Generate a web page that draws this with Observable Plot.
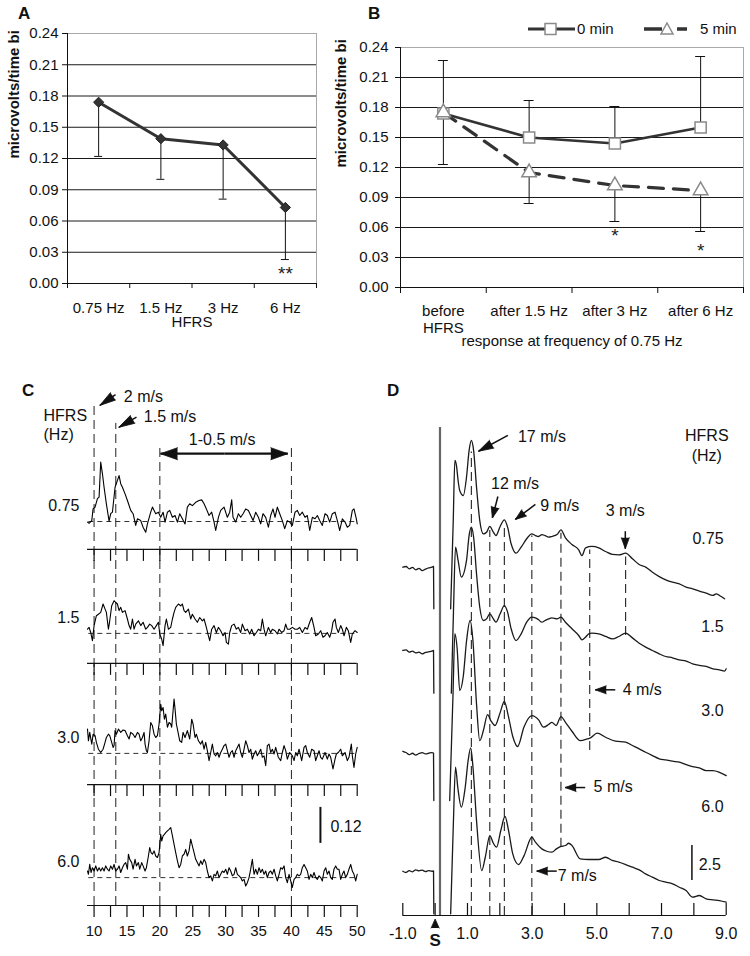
<!DOCTYPE html>
<html>
<head>
<meta charset="utf-8">
<script src="https://cdn.jsdelivr.net/npm/d3@7"></script>
<script src="https://cdn.jsdelivr.net/npm/@observablehq/plot@0.6"></script>
<style>
  body { margin: 0; background: #fff; }
  #fig { position: relative; width: 750px; height: 956px; overflow: hidden; background: #fff;
         font-family: "Liberation Sans", Arial, sans-serif; color: #111; }
  .panel { position: absolute; }
  .letter { position: absolute; font-weight: bold; font-size: 17px; line-height: 20px; }
  .legtxt { position: absolute; font-size: 15px; line-height: 18px; white-space: nowrap; }
</style>
</head>
<body>
<div id="fig">
  <div class="letter" style="left:18px;top:4px">A</div>
  <div class="letter" style="left:368px;top:4px">B</div>
  <div class="letter" style="left:22px;top:381px">C</div>
  <div class="letter" style="left:387px;top:381px">D</div>
</div>
<script>
// ---------------- DATA ----------------
// Panel A
const hfrsA = ["0.75 Hz", "1.5 Hz", "3 Hz", "6 Hz"];
const meanA = [0.174, 0.139, 0.133, 0.073];
const lowerA = [0.122, 0.100, 0.081, 0.023];
const sigA = ["", "", "", "**"];
const sigAy = [null, null, null, 0.0144];
const yTicksA = [0, 0.03, 0.06, 0.09, 0.12, 0.15, 0.18, 0.21, 0.24];

// Panel B
const timepointsB = ["before\nHFRS", "after 1.5 Hz", "after 3 Hz", "after 6 Hz"];
const seriesB = ["0 min", "5 min"];
const mean0 = [0.174, 0.150, 0.144, 0.160];
const upper0 = [0.227, 0.187, 0.181, 0.231];
const mean5 = [0.175, 0.115, 0.102, 0.097];
const lower5 = [0.123, 0.084, 0.066, 0.056];
const sigB = ["", "", "*", "*"];
const sigBy = [null, null, 0.057, 0.042];
const yTicksB = [0, 0.03, 0.06, 0.09, 0.12, 0.15, 0.18, 0.21, 0.24];

// Panel C : time (ms) vs response (microvolts/time bin) relative to baseline
const cRates = ["0.75", "1.5", "3.0", "6.0"];
const cTickLabels = [10, 15, 20, 25, 30, 35, 40, 45, 50];
const cMinorTicks = [10, 12.5, 15, 17.5, 20, 22.5, 25, 27.5, 30, 32.5, 35, 37.5, 40, 42.5, 45, 47.5, 50];
const cMarkerTimes = [10, 13.3, 20, 40];
const cScaleBar = 0.12;
const c075 = [[9.0,-0.002],[9.24,-0.006],[9.65,0.003],[9.85,0.042],[10.15,0.048],[10.51,0.076],[10.76,0.081],[11.01,0.198],[11.27,0.159],[11.52,0.114],[11.87,0.059],[12.28,0.001],[12.53,0.026],[12.79,0.031],[13.19,0.114],[13.55,0.137],[13.80,0.153],[14.05,0.126],[14.31,0.114],[14.71,0.092],[15.07,0.070],[15.57,0.037],[15.93,0.026],[16.33,-0.013],[16.59,0.009],[17.09,0.003],[17.45,-0.019],[17.85,-0.036],[18.11,-0.008],[18.61,0.031],[18.87,0.048],[19.37,0.026],[19.78,0.031],[20.13,0.014],[20.49,0.031],[20.79,-0.002],[21.15,0.031],[21.50,0.037],[21.91,0.014],[22.31,0.020],[22.67,-0.002],[23.02,0.026],[23.42,0.009],[23.83,-0.008],[24.18,0.048],[24.54,0.059],[24.94,0.053],[25.45,0.064],[25.96,0.070],[26.36,0.072],[26.72,0.059],[27.07,0.042],[27.48,0.020],[27.88,0.031],[28.24,-0.002],[28.49,-0.030],[28.90,0.014],[29.25,0.037],[29.76,0.048],[30.26,0.014],[30.62,0.031],[30.92,0.072],[31.12,0.014],[31.53,-0.002],[31.94,0.026],[32.29,0.014],[32.65,0.026],[33.05,0.042],[33.46,0.037],[33.81,0.020],[34.17,0.003],[34.57,0.031],[34.98,0.014],[35.33,-0.008],[35.68,0.026],[36.09,0.014],[36.50,-0.019],[36.85,0.020],[37.20,0.042],[37.51,0.014],[37.86,0.048],[38.22,0.026],[38.62,0.003],[38.98,-0.024],[39.38,0.003],[39.74,-0.002],[40.14,-0.013],[40.55,0.031],[40.90,0.037],[41.26,0.020],[41.66,0.031],[42.07,0.014],[42.42,0.020],[42.78,-0.030],[43.18,0.014],[43.59,0.009],[43.94,0.020],[44.30,0.003],[44.70,-0.013],[45.11,0.026],[45.46,0.020],[45.82,-0.002],[46.22,0.026],[46.63,0.031],[46.98,0.003],[47.34,-0.030],[47.74,0.009],[48.15,-0.002],[48.50,-0.019],[48.86,-0.013],[49.26,0.037],[49.51,0.042],[49.87,0.009],[50.0,-0.008]];
const c15 = [[9.0,0.014],[9.24,0.020],[9.49,0.003],[9.75,-0.024],[10.0,0.026],[10.35,0.059],[10.66,0.064],[11.01,0.070],[11.37,0.098],[11.67,0.081],[11.87,0.070],[12.18,0.014],[12.38,0.042],[12.68,0.092],[13.04,0.109],[13.29,0.103],[13.55,0.098],[13.80,0.076],[14.05,0.087],[14.31,0.070],[14.71,0.076],[15.07,0.048],[15.32,0.026],[15.57,0.014],[15.83,0.048],[16.08,0.014],[16.33,0.031],[16.74,0.042],[17.09,0.026],[17.45,0.037],[17.85,0.014],[18.11,0.020],[18.46,0.031],[18.76,0.026],[19.12,0.014],[19.47,0.026],[19.78,0.037],[19.98,-0.002],[20.28,-0.019],[20.49,-0.041],[20.79,0.026],[20.99,0.048],[21.30,0.014],[21.65,0.020],[21.91,0.048],[22.16,0.070],[22.41,0.087],[22.82,0.098],[23.17,0.092],[23.42,0.098],[23.68,0.076],[23.93,0.070],[24.34,0.081],[24.69,0.048],[24.94,0.064],[25.35,0.048],[25.70,0.037],[26.06,0.053],[26.46,0.042],[26.72,0.048],[27.07,0.020],[27.38,-0.008],[27.58,-0.024],[27.88,0.014],[28.24,0.026],[28.59,0.003],[28.90,0.020],[29.25,0.009],[29.61,-0.008],[29.91,0.003],[30.11,-0.030],[30.42,-0.036],[30.62,0.003],[30.92,0.026],[31.28,0.031],[31.63,0.014],[31.94,0.020],[32.29,0.003],[32.54,0.031],[32.95,0.009],[33.31,0.014],[33.66,-0.002],[33.96,0.014],[34.32,-0.008],[34.67,0.003],[34.98,0.014],[35.33,0.009],[35.58,0.048],[35.84,0.014],[36.09,-0.008],[36.50,0.020],[36.85,0.003],[37.10,0.014],[37.51,0.009],[37.86,-0.002],[38.12,0.014],[38.52,0.003],[38.88,0.009],[39.13,0.031],[39.38,0.014],[39.74,0.014],[40.14,0.020],[40.55,0.014],[40.90,0.014],[41.26,0.020],[41.66,0.003],[42.07,0.020],[42.42,0.014],[42.78,0.037],[43.08,0.053],[43.44,0.020],[43.69,-0.008],[44.10,-0.002],[44.45,0.009],[44.80,-0.013],[45.11,-0.008],[45.46,0.003],[45.82,-0.013],[46.12,0.009],[46.32,0.037],[46.63,0.048],[46.83,0.020],[47.13,0.003],[47.49,0.026],[47.74,0.014],[48.0,-0.008],[48.35,0.020],[48.65,0.009],[49.01,-0.030],[49.26,-0.002],[49.67,0.009],[50.0,0.003]];
const c30 = [[9.0,0.081],[9.14,0.042],[9.34,0.070],[9.65,0.031],[9.85,0.064],[10.15,0.059],[10.35,0.037],[10.66,0.014],[11.01,0.003],[11.37,0.014],[11.67,0.037],[11.87,0.053],[12.18,0.064],[12.38,0.059],[12.68,0.037],[12.89,0.020],[13.04,0.026],[13.19,0.076],[13.39,0.064],[13.70,0.081],[14.05,0.070],[14.41,0.078],[14.71,0.076],[15.07,0.059],[15.32,0.048],[15.57,0.070],[15.93,0.064],[16.23,0.053],[16.59,0.070],[16.84,0.064],[17.09,0.042],[17.35,0.053],[17.60,0.070],[17.75,0.031],[17.95,0.009],[18.11,0.003],[18.36,0.042],[18.61,0.103],[18.87,0.092],[19.12,0.064],[19.37,0.053],[19.63,0.059],[19.88,0.098],[20.13,0.164],[20.28,0.142],[20.49,0.153],[20.69,0.114],[20.89,0.131],[21.15,0.087],[21.40,0.103],[21.65,0.098],[21.80,0.087],[22.01,0.142],[22.16,0.181],[22.31,0.148],[22.51,0.098],[22.82,0.064],[23.02,0.042],[23.32,0.037],[23.53,0.070],[23.83,0.053],[24.18,0.076],[24.54,0.048],[24.84,0.114],[25.05,0.098],[25.35,0.053],[25.55,0.064],[25.86,0.042],[26.21,0.031],[26.46,0.042],[26.72,0.014],[26.97,0.037],[27.22,0.009],[27.48,-0.024],[27.73,0.003],[27.98,0.031],[28.24,-0.002],[28.49,-0.008],[28.74,0.003],[29.0,-0.013],[29.25,0.003],[29.50,0.014],[29.76,0.026],[30.01,0.031],[30.26,0.009],[30.52,-0.013],[30.77,0.003],[31.02,0.009],[31.28,-0.013],[31.53,0.009],[31.78,0.020],[32.04,0.031],[32.29,0.003],[32.54,-0.013],[32.80,0.014],[33.05,0.042],[33.30,0.026],[33.56,0.003],[33.81,0.014],[34.06,-0.019],[34.32,-0.002],[34.57,0.009],[34.82,-0.008],[35.08,0.003],[35.33,0.014],[35.58,-0.013],[35.84,-0.008],[36.09,-0.041],[36.34,0.026],[36.60,0.031],[36.85,0.003],[37.10,0.014],[37.36,-0.002],[37.61,0.020],[38.01,-0.013],[38.37,-0.024],[38.62,0.003],[38.88,0.026],[39.13,0.009],[39.38,-0.019],[39.74,0.003],[40.14,-0.008],[40.40,-0.024],[40.65,0.003],[40.90,-0.008],[41.16,0.014],[41.56,-0.024],[41.92,0.020],[42.17,0.026],[42.42,0.003],[42.78,-0.013],[43.08,0.014],[43.44,0.009],[43.69,-0.024],[43.94,-0.008],[44.20,0.009],[44.45,-0.013],[44.70,-0.019],[45.11,0.003],[45.46,-0.019],[45.71,-0.002],[45.97,-0.013],[46.32,-0.052],[46.63,-0.019],[46.83,-0.002],[47.13,0.003],[47.49,0.014],[47.74,-0.008],[48.15,0.003],[48.50,-0.024],[48.75,-0.013],[49.11,0.031],[49.26,-0.008],[49.51,-0.047],[49.77,-0.002],[50.0,0.020]];
const c60 = [[9.0,0.022],[9.14,0.011],[9.34,0.044],[9.54,0.017],[9.75,0.033],[10.0,0.022],[10.25,0.039],[10.51,0.022],[10.76,0.033],[11.01,0.022],[11.27,0.033],[11.52,0.022],[11.77,0.039],[12.03,0.028],[12.28,0.022],[12.53,0.039],[12.79,0.028],[13.04,0.044],[13.29,0.022],[13.55,0.028],[13.80,0.039],[14.05,0.017],[14.31,0.033],[14.56,0.044],[14.81,0.050],[15.07,0.028],[15.22,0.078],[15.42,0.061],[15.72,0.050],[15.93,0.028],[16.23,0.061],[16.43,0.039],[16.74,0.050],[16.94,0.028],[17.24,0.050],[17.45,0.039],[17.75,0.022],[17.95,0.033],[18.26,0.072],[18.46,0.100],[18.66,0.083],[18.87,0.078],[19.12,0.089],[19.37,0.072],[19.63,0.067],[19.88,0.083],[20.13,0.144],[20.28,0.122],[20.49,0.139],[20.69,0.144],[20.89,0.150],[21.15,0.156],[21.40,0.161],[21.65,0.167],[21.91,0.139],[22.16,0.111],[22.41,0.083],[22.67,0.056],[22.92,0.033],[23.17,0.044],[23.42,0.072],[23.68,0.078],[23.93,0.094],[24.18,0.072],[24.44,0.089],[24.69,0.128],[24.94,0.106],[25.20,0.083],[25.45,0.061],[25.70,0.050],[25.96,0.039],[26.21,0.056],[26.46,0.044],[26.72,0.061],[26.97,0.050],[27.22,0.022],[27.48,0.0],[27.73,0.006],[27.98,-0.011],[28.24,0.011],[28.49,0.006],[28.74,0.022],[29.0,0.0],[29.25,0.011],[29.50,0.022],[29.76,0.017],[30.01,0.028],[30.26,0.011],[30.52,0.033],[30.77,0.022],[31.02,0.006],[31.28,0.011],[31.53,0.033],[31.78,0.011],[32.04,0.006],[32.29,0.0],[32.54,-0.011],[32.80,-0.006],[33.05,-0.028],[33.30,-0.017],[33.56,0.0],[33.81,0.028],[34.06,0.061],[34.32,0.011],[34.57,0.028],[34.82,0.011],[35.08,0.033],[35.33,0.017],[35.58,0.028],[35.84,0.011],[36.09,0.022],[36.34,0.0],[36.60,0.017],[36.85,0.022],[37.10,0.011],[37.36,0.028],[37.61,0.006],[37.86,-0.011],[38.12,0.011],[38.37,0.033],[38.62,0.028],[38.88,0.039],[39.13,0.0],[39.38,-0.017],[39.64,0.011],[39.89,-0.011],[40.14,-0.033],[40.40,-0.006],[40.65,0.0],[40.90,0.011],[41.16,0.006],[41.41,0.011],[41.66,0.033],[41.92,0.044],[42.17,0.033],[42.42,0.022],[42.68,-0.006],[42.93,0.011],[43.18,0.0],[43.44,0.017],[43.69,0.0],[43.94,-0.006],[44.20,0.006],[44.45,0.0],[44.70,-0.011],[44.96,0.022],[45.21,0.033],[45.46,0.011],[45.71,0.022],[45.97,0.0],[46.22,-0.006],[46.47,0.028],[46.73,0.039],[46.98,0.028],[47.23,0.028],[47.49,-0.006],[47.74,0.011],[47.99,0.022],[48.25,0.0],[48.50,0.011],[48.75,0.028],[49.01,0.044],[49.26,0.022],[49.51,0.011],[49.77,-0.011],[50.0,0.011]];

// Panel D : time (ms) vs potential relative to pre-stimulus level (null = stimulus artifact gap)
const dRates = ["0.75", "1.5", "3.0", "6.0"];
const dTicks = [-1, 0, 1, 2, 3, 4, 5, 6, 7, 8, 9];
const dTickLabels = [-1, 1, 3, 5, 7, 9];
const dVelocities = ["17 m/s", "12 m/s", "9 m/s", "7 m/s", "5 m/s", "4 m/s", "3 m/s"];
const dLatencies = [1.12, 1.69, 2.14, 2.99, 3.89, 4.78, 5.89];
const dScaleBar = 2.5;
const d075 = [[-1.0,0.07],[-0.9,0.12],[-0.8,-0.05],[-0.7,0.05],[-0.6,-0.12],[-0.5,-0.02],[-0.4,-0.17],[-0.3,-0.07],[-0.2,0.02],[-0.1,0.07],[-0.05,0.12],[-0.04,-2.9],[0.2,null],[0.48,-2.9],[0.56,3.4],[0.61,7.69],[0.66,7.33],[0.71,6.26],[0.76,5.55],[0.87,5.19],[0.97,6.5],[1.05,8.4],[1.12,9.12],[1.19,8.4],[1.28,5.79],[1.38,3.4],[1.49,2.45],[1.59,2.57],[1.69,2.98],[1.80,2.57],[1.88,2.33],[2.01,2.98],[2.14,3.45],[2.24,2.93],[2.35,1.74],[2.50,1.07],[2.66,1.5],[2.83,2.10],[2.99,2.45],[3.10,2.33],[3.20,2.26],[3.30,2.40],[3.40,2.33],[3.51,2.21],[3.61,2.26],[3.77,2.40],[3.89,2.74],[4.03,2.17],[4.23,1.69],[4.44,1.31],[4.54,0.90],[4.65,1.45],[4.85,1.55],[5.06,1.45],[5.27,1.19],[5.48,0.98],[5.68,0.95],[5.89,1.07],[6.10,0.67],[6.31,0.26],[6.51,0.07],[6.72,-0.29],[6.93,-0.60],[7.13,-0.83],[7.34,-1.0],[7.55,-1.12],[7.76,-1.36],[7.96,-1.48],[8.17,-1.64],[8.38,-1.79],[8.59,-1.95],[8.69,-1.83],[8.79,-1.95],[8.95,-2.19]];
const d15 = [[-1.0,0.12],[-0.9,0.17],[-0.8,0],[-0.7,0.07],[-0.6,-0.05],[-0.5,0],[-0.4,-0.12],[-0.3,-0.02],[-0.2,0.02],[-0.1,0.07],[-0.05,0.12],[-0.04,-2.93],[0.2,null],[0.5,-2.93],[0.57,3.2],[0.63,7.5],[0.71,6.55],[0.81,5.36],[0.97,6.55],[1.05,8.33],[1.12,8.93],[1.19,8.21],[1.28,5.6],[1.38,3.21],[1.49,2.26],[1.59,2.38],[1.69,2.74],[1.80,2.38],[1.88,2.14],[2.01,2.74],[2.14,3.33],[2.24,2.86],[2.35,1.67],[2.50,0.83],[2.66,1.31],[2.83,2.14],[2.99,2.5],[3.10,2.45],[3.20,2.31],[3.30,2.14],[3.40,2.26],[3.51,2.38],[3.61,2.45],[3.77,2.38],[3.89,2.5],[4.03,2.14],[4.23,1.67],[4.44,1.19],[4.54,0.88],[4.65,1.07],[4.75,1.31],[4.85,1.36],[5.06,1.31],[5.27,1.12],[5.48,0.95],[5.68,1.12],[5.89,1.36],[6.10,1.02],[6.31,0.64],[6.51,0.36],[6.72,0.12],[6.93,-0.12],[7.13,-0.31],[7.34,-0.40],[7.55,-0.55],[7.76,-0.64],[7.96,-0.83],[8.17,-0.95],[8.38,-1.02],[8.59,-1.19],[8.79,-1.26],[8.95,-1.36],[9.0,-1.19]];
const d30 = [[-1.0,0.14],[-0.9,0.05],[-0.8,-0.10],[-0.7,0],[-0.6,-0.14],[-0.5,-0.02],[-0.4,0.05],[-0.3,-0.05],[-0.2,0],[-0.1,0.05],[-0.05,0.02],[-0.04,-3.38],[0.2,null],[0.45,-3.38],[0.55,4.0],[0.61,8.55],[0.68,7.5],[0.76,4.48],[0.87,5.5],[0.97,8.0],[1.08,9.48],[1.17,8.0],[1.28,3.5],[1.38,0.9],[1.50,1.7],[1.62,2.76],[1.73,2.3],[1.85,1.98],[2.01,2.9],[2.14,3.71],[2.25,2.8],[2.40,1.2],[2.55,0.48],[2.75,1.9],[2.99,2.69],[3.20,2.38],[3.35,1.86],[3.51,2.05],[3.61,2.21],[3.74,1.98],[3.89,2.62],[4.03,2.21],[4.23,1.57],[4.49,0.9],[4.70,1.02],[4.80,1.10],[5.01,1.43],[5.27,1.14],[5.58,0.86],[5.89,0.79],[6.10,0.55],[6.31,0.31],[6.51,0.07],[6.72,-0.17],[6.93,-0.40],[7.13,-0.48],[7.34,-0.57],[7.55,-0.64],[7.76,-0.81],[7.96,-0.95],[8.17,-1.05],[8.38,-1.24],[8.59,-1.24],[8.79,-1.36],[9.0,-1.60]];
const d60 = [[-1.0,0.02],[-0.9,-0.07],[-0.8,0.07],[-0.7,-0.02],[-0.6,0.12],[-0.5,0.05],[-0.4,0.10],[-0.3,0],[-0.2,0.07],[-0.1,0.02],[-0.05,0.05],[-0.04,-3.02],[0.2,null],[0.48,-3.02],[0.56,3.17],[0.63,7.45],[0.70,6.02],[0.81,4.6],[0.93,6.02],[1.02,7.93],[1.10,8.83],[1.17,7.45],[1.28,3.64],[1.44,0.07],[1.55,1.02],[1.69,2.57],[1.80,2.02],[1.90,1.74],[2.03,2.93],[2.16,3.93],[2.27,2.93],[2.40,1.26],[2.58,0.5],[2.75,1.14],[2.99,2.45],[3.10,2.1],[3.30,1.62],[3.45,1.45],[3.61,1.38],[3.75,1.62],[3.89,1.79],[4.03,1.86],[4.13,2.02],[4.23,1.86],[4.49,0.9],[4.75,0.86],[5.06,0.86],[5.27,1.02],[5.48,0.79],[5.68,0.67],[5.89,0.5],[6.10,0.31],[6.31,0.12],[6.51,-0.17],[6.72,-0.40],[6.93,-0.64],[7.13,-0.76],[7.34,-0.88],[7.55,-1.12],[7.76,-1.36],[7.96,-1.83],[8.17,-1.71],[8.38,-1.95],[8.59,-2.02],[8.79,-2.07],[9.0,-2.19]];

// ---------------- RENDER ----------------
const FONT = '"Liberation Sans", Arial, sans-serif';
const fig = document.getElementById("fig");
const baseStyle = {fontFamily: FONT, fontSize: "15px", background: "transparent", color: "#111", overflow: "visible"};
function place(svg, left, top, width) {
  const d = document.createElement("div");
  d.className = "panel";
  d.style.left = left + "px"; d.style.top = top + "px"; d.style.width = width + "px";
  d.appendChild(svg);
  fig.appendChild(d);
}
// text marks split by anchor (textAnchor must be a constant)
function notesMarks(notes, opts) {
  return ["start", "middle", "end"].map(a =>
    Plot.text(notes.filter(d => d.a === a), {x: "x", y: "y", text: "t", textAnchor: a, ...opts}));
}
const fmt2 = d3.format(".2f");
const DARK = "#1a1a1a";

// ----- Panel A -----
{
  const n = hfrsA.length;
  const data = hfrsA.map((c, i) => ({x: i + 0.5, mean: meanA[i], lower: lowerA[i], sig: sigA[i], sy: sigAy[i]}));
  const cap = 0.064;
  const svg = Plot.plot({
    width: 330, height: 340, marginLeft: 67, marginRight: 14, marginTop: 33, marginBottom: 57,
    x: {domain: [0, n]}, y: {domain: [0, 0.24]},
    style: baseStyle,
    marks: [
      Plot.ruleY(yTicksA.filter(v => v > 0 && v < 0.24), {stroke: DARK}),
      Plot.ruleY([0.24], {stroke: "#a9a9a9"}),
      Plot.ruleX([n], {stroke: "#a9a9a9"}),
      Plot.ruleX([0], {stroke: "#111"}),
      Plot.ruleY([0], {stroke: "#111"}),
      Plot.axisY({ticks: yTicksA, tickFormat: fmt2, tickSize: 5, tickPadding: 4, label: null, fontSize: 15}),
      Plot.axisX({ticks: d3.range(n + 1), tickSize: 5, tickFormat: () => "", label: null}),
      Plot.axisX({ticks: data.map(d => d.x), tickSize: 0, tickPadding: 19, label: null, fontSize: 15,
                  tickFormat: v => hfrsA[Math.round(v - 0.5)]}),
      Plot.ruleX(data, {x: "x", y1: "mean", y2: "lower", stroke: "#111"}),
      Plot.ruleY(data, {x1: d => d.x - cap, x2: d => d.x + cap, y: "lower", stroke: "#111"}),
      Plot.line(data, {x: "x", y: "mean", stroke: "#333", strokeWidth: 3}),
      Plot.dot(data, {x: "x", y: "mean", symbol: "diamond2", r: 4.6, fill: "#333", stroke: "#222", strokeWidth: 1}),
      Plot.text(data.filter(d => d.sig), {x: "x", y: "sy", text: "sig", fontSize: 19, dy: 5, fill: "#222"}),
      Plot.text(["HFRS"], {text: d => d, frameAnchor: "bottom", dy: 43, fontSize: 15}),
      Plot.text(["microvolts/time bi"], {text: d => d, frameAnchor: "left", dx: -53, rotate: -90, fontWeight: "bold", fontSize: 15})
    ]
  });
  place(svg, 0, 0, 330);
}

// ----- Panel B -----
{
  const n = timepointsB.length;
  const data = timepointsB.map((t, i) => ({x: i + 0.5, m0: mean0[i], u0: upper0[i], m5: mean5[i], l5: lower5[i], sig: sigB[i], sy: sigBy[i]}));
  const cap = 0.058;
  const svg = Plot.plot({
    width: 430, height: 360, marginLeft: 80, marginRight: 7, marginTop: 47, marginBottom: 73,
    x: {domain: [0, n]}, y: {domain: [0, 0.24]},
    style: baseStyle,
    marks: [
      Plot.ruleY(yTicksB.filter(v => v > 0 && v < 0.24), {stroke: DARK}),
      Plot.ruleY([0.24], {stroke: "#a9a9a9"}),
      Plot.ruleX([n], {stroke: "#a9a9a9"}),
      Plot.ruleX([0], {stroke: "#111"}),
      Plot.ruleY([0], {stroke: "#111"}),
      Plot.axisY({ticks: yTicksB, tickFormat: fmt2, tickSize: 5, tickPadding: 7, label: null, fontSize: 15}),
      Plot.axisX({ticks: d3.range(n + 1), tickSize: 6, tickFormat: () => "", label: null}),
      Plot.axisX({ticks: data.map(d => d.x), tickSize: 0, tickPadding: 17, label: null, fontSize: 15, lineHeight: 1.12,
                  tickFormat: v => timepointsB[Math.round(v - 0.5)]}),
      Plot.ruleX(data, {x: "x", y1: "m0", y2: "u0", stroke: "#111"}),
      Plot.ruleY(data, {x1: d => d.x - cap, x2: d => d.x + cap, y: "u0", stroke: "#111"}),
      Plot.ruleX(data, {x: "x", y1: "m5", y2: "l5", stroke: "#111"}),
      Plot.ruleY(data, {x1: d => d.x - cap, x2: d => d.x + cap, y: "l5", stroke: "#111"}),
      Plot.line(data, {x: "x", y: "m5", stroke: "#333", strokeWidth: 3.2, strokeDasharray: "15,10"}),
      Plot.line(data, {x: "x", y: "m0", stroke: "#333", strokeWidth: 2.5}),
      Plot.dot(data, {x: "x", y: "m0", symbol: "square", r: 6.3, fill: "white", stroke: "#8a8a8a", strokeWidth: 1.5}),
      Plot.dot(data, {x: "x", y: "m5", symbol: "triangle", r: 5.4, fill: "white", stroke: "#8a8a8a", strokeWidth: 1.5}),
      Plot.text(data.filter(d => d.sig), {x: "x", y: "sy", text: "sig", fontSize: 19, dy: 5, fill: "#222"}),
      Plot.text(["response at frequency of 0.75 Hz"], {text: d => d, frameAnchor: "bottom", dy: 58, fontSize: 15}),
      Plot.text(["microvolts/time bi"], {text: d => d, frameAnchor: "left", dx: -59, rotate: -90, fontWeight: "bold", fontSize: 15})
    ]
  });
  place(svg, 320, 0, 430);

  // legend (HTML + small svg swatches)
  const leg = document.createElement("div");
  leg.className = "panel";
  leg.style.left = "520px"; leg.style.top = "19px"; leg.style.width = "230px"; leg.style.height = "20px";
  leg.innerHTML =
    '<svg width="180" height="20" style="position:absolute;left:0;top:0">' +
    '<line x1="8" x2="55" y1="10" y2="10" stroke="#333" stroke-width="3"/>' +
    '<rect x="25" y="4.5" width="11" height="11" fill="#fff" stroke="#8a8a8a" stroke-width="1.5"/>' +
    '<line x1="124" x2="142" y1="10" y2="10" stroke="#333" stroke-width="3.5"/>' +
    '<line x1="157" x2="167" y1="10" y2="10" stroke="#333" stroke-width="3.5"/>' +
    '<path d="M147,4 L153,15 L141,15 Z" fill="#fff" stroke="#8a8a8a" stroke-width="1.5"/>' +
    '</svg>' +
    '<div class="legtxt" style="left:57px;top:1px">' + seriesB[0] + '</div>' +
    '<div class="legtxt" style="left:180px;top:1px">' + seriesB[1] + '</div>';
  fig.appendChild(leg);
}

// ----- Panel C -----
{
  const W = 375, H = 586, mL = 87, mR = 18.3, mB = 51;
  const kx = (W - mL - mR) / (50 - 9);       // px per ms
  const ky = 300;                              // px per unit (0.12 bar = 36 px)
  const axisY = [1.187, 0.807, 0.403, 0];      // row axis positions (layout)
  const baseY = [1.28, 0.907, 0.507, 0.093];   // row baselines (layout)
  const traces = [c075, c15, c30, c60];
  const tickData = axisY.flatMap(y => cMinorTicks.map(x => ({x, y})));
  const markerTops = [1.673, 1.607, 1.527, 1.527];
  const markers = cMarkerTimes.map((x, i) => ({x, top: markerTops[i]}));
  const arrows = [
    {x1: 13.26, y1: 1.703, x2: 10.87, y2: 1.667, len: 16},
    {x1: 16.45, y1: 1.628, x2: 13.76, y2: 1.594, len: 15}
  ];
  const dbl = [
    {x1: 29.8, y1: 1.506, x2: 20.1, y2: 1.506},
    {x1: 29.8, y1: 1.506, x2: 39.45, y2: 1.506}
  ];
  const rot = d => Math.atan2((d.x2 - d.x1) * kx, (d.y2 - d.y1) * ky) * 180 / Math.PI;
  const notes = [
    {x: 14.52, y: 1.694, t: "2 m/s", a: "start"},
    {x: 17.56, y: 1.628, t: "1.5 m/s", a: "start"},
    {x: 29.48, y: 1.553, t: "1-0.5 m/s", a: "middle"},
    {x: 2.31, y: 1.633, t: "HFRS", a: "start"},
    {x: 2.31, y: 1.570, t: "(Hz)", a: "start"}
  ];
  const marks = [
    Plot.ruleX(markers, {x: "x", y1: 0, y2: "top", stroke: "#222", strokeWidth: 1, strokeDasharray: "9,5"}),
    Plot.ruleY(baseY, {x1: 9.2, x2: 50, stroke: "#333", strokeWidth: 1, strokeDasharray: "5,4"}),
    Plot.ruleY(axisY, {x1: 9, x2: 50, stroke: "#111", strokeWidth: 1.2}),
    Plot.ruleX(tickData, {x: "x", y1: "y", y2: d => d.y - 12 / ky, stroke: "#111", strokeWidth: 1.2}),
    ...traces.map((tr, i) => Plot.line(tr.map(([x, a]) => ({x, y: baseY[i] + a})),
      {x: "x", y: "y", stroke: "#000", strokeWidth: 1.1})),
    Plot.text(cRates, {x: 9, y: (d, i) => baseY[i] + 0.053, text: d => d, dx: -8, textAnchor: "end", fontSize: 16}),
    Plot.axisX({ticks: cTickLabels, tickSize: 0, tickPadding: 20, label: null, fontSize: 15}),
    Plot.ruleX([cScaleBar], {x: 44.41, y1: 0.207, y2: d => 0.207 + d, stroke: "#111", strokeWidth: 2}),
    Plot.text([cScaleBar], {x: 45.93, y: 0.261, text: d => String(d), textAnchor: "start", fontSize: 16}),
    ...notesMarks(notes, {fontSize: 16}),
    Plot.link(arrows, {x1: "x1", y1: "y1", x2: "x2", y2: "y2", stroke: "#111", strokeWidth: 1.5}),
    Plot.vector(arrows, {x: "x2", y: "y2", rotate: rot, length: 16, r: 4.5, shape: "spike", anchor: "end",
      fill: "#111", fillOpacity: 1, stroke: "#111", strokeWidth: 0.8}),
    Plot.link(dbl, {x1: "x1", y1: "y1", x2: "x2", y2: "y2", stroke: "#111", strokeWidth: 2.2}),
    Plot.vector(dbl, {x: "x2", y: "y2", rotate: rot, length: 17, r: 6, shape: "spike", anchor: "end",
      fill: "#111", fillOpacity: 1, stroke: "#111", strokeWidth: 0.8})
  ];
  const svg = Plot.plot({
    width: W, height: H, marginLeft: mL, marginRight: mR, marginTop: 0, marginBottom: mB,
    x: {domain: [9, 50]}, y: {domain: [0, (H - mB) / ky], axis: null},
    style: baseStyle,
    marks
  });
  place(svg, 0, 370, W);
}

// ----- Panel D -----
{
  const W = 365, H = 586, mL = 17.3, mR = 24.3, mB = 41;
  const kx = (W - mL - mR) / 10;   // px per ms
  const ky = 14;                    // px per unit (2.5 bar = 35 px)
  const offsets = [24.81, 18.81, 11.59, 3.14];  // trace stacking (layout)
  const traces = [d075, d15, d30, d60];
  const velTop = [33.1, 27.5, 27.7, 27.1, 27.3, 26.1, 25.6];
  const velBot = [0, 0, 0, 0, 4.88, 11.79, 20.0];
  const vel = dLatencies.map((x, i) => ({x, y1: velBot[i], y2: velTop[i]}));
  const rot = d => Math.atan2((d.x2 - d.x1) * kx, (d.y2 - d.y1) * ky) * 180 / Math.PI;
  const arrowsBig = [{x1: 2.25, y1: 34.29, x2: 1.34, y2: 33.16}];
  const arrows = [
    {x1: 1.94, y1: 29.93, x2: 1.77, y2: 28.4},
    {x1: 3.10, y1: 29.36, x2: 2.48, y2: 28.29},
    {x1: 5.88, y1: 27.45, x2: 5.88, y2: 26.2},
    {x1: 5.57, y1: 16.12, x2: 4.95, y2: 16.12},
    {x1: 4.64, y1: 9.14, x2: 4.02, y2: 9.14},
    {x1: 3.76, y1: 3.17, x2: 3.14, y2: 3.17}
  ];
  const velNotes = [
    {x: 2.56, y: 34.2, a: "start"}, {x: 1.73, y: 30.83, a: "start"}, {x: 3.25, y: 29.29, a: "start"},
    {x: 3.79, y: 2.86, a: "start"}, {x: 4.90, y: 9.21, a: "start"}, {x: 5.80, y: 16.12, a: "start"},
    {x: 5.88, y: 28.88, a: "middle"}
  ].map((d, i) => ({...d, t: dVelocities[i]}));
  const rateY = [26.9, 20.6, 14.64, 7.74];
  const marks = [
    Plot.ruleY([0], {x1: -1, x2: 9, stroke: "#111", strokeWidth: 1.2}),
    Plot.ruleX(dTicks, {x: d => d, y1: 0, y2: 12 / ky, stroke: "#111", strokeWidth: 1.2}),
    Plot.axisX({ticks: dTickLabels, tickSize: 0, tickPadding: 12, label: null, fontSize: 16, tickFormat: d => d.toFixed(1)}),
    Plot.ruleX([0.15], {y1: 0, y2: 34.86, stroke: "#666", strokeWidth: 2.2}),
    Plot.ruleX(vel, {x: "x", y1: "y1", y2: "y2", stroke: "#222", strokeWidth: 1.1, strokeDasharray: "9,5"}),
    ...traces.map((tr, i) => Plot.line(tr.map(([x, a]) => ({x, y: a == null ? NaN : offsets[i] + a})),
      {x: "x", y: "y", stroke: "#1a1a1a", strokeWidth: 1.3, curve: "monotone-x"})),
    Plot.text(dRates, {x: 8.92, y: (d, i) => rateY[i], text: d => d, textAnchor: "end", fontSize: 16}),
    Plot.text(["HFRS", "(Hz)"], {x: 8.40, y: (d, i) => [34.29, 32.86][i], text: d => d, fontSize: 16}),
    ...notesMarks(velNotes, {fontSize: 16}),
    Plot.link(arrowsBig, {x1: "x1", y1: "y1", x2: "x2", y2: "y2", stroke: "#111", strokeWidth: 1.5}),
    Plot.vector(arrowsBig, {x: "x2", y: "y2", rotate: rot, length: 15, r: 4.5, shape: "spike", anchor: "end",
      fill: "#111", fillOpacity: 1, stroke: "#111", strokeWidth: 0.8}),
    Plot.link(arrows, {x1: "x1", y1: "y1", x2: "x2", y2: "y2", stroke: "#111", strokeWidth: 1.5}),
    Plot.vector(arrows, {x: "x2", y: "y2", rotate: rot, length: 11, r: 4, shape: "spike", anchor: "end",
      fill: "#111", fillOpacity: 1, stroke: "#111", strokeWidth: 0.8}),
    Plot.ruleX([dScaleBar], {x: 7.94, y1: 2.5, y2: d => 2.5 + d, stroke: "#111", strokeWidth: 1.5}),
    Plot.text([dScaleBar], {x: 8.15, y: 3.64, text: d => d.toFixed(1), textAnchor: "start", fontSize: 16}),
    Plot.vector([0], {x: 0, y: -0.25, rotate: 0, length: 9, r: 4, shape: "spike", anchor: "end",
      fill: "#111", fillOpacity: 1, stroke: "#111", strokeWidth: 0.8}),
    Plot.text(["S"], {x: 0, y: -1.8, text: d => d, fontWeight: "bold", fontSize: 17})
  ];
  const svg = Plot.plot({
    width: W, height: H, marginLeft: mL, marginRight: mR, marginTop: 0, marginBottom: mB,
    x: {domain: [-1, 9]}, y: {domain: [0, (H - mB) / ky], axis: null},
    style: baseStyle,
    marks
  });
  place(svg, 385, 370, W);
}
</script>
</body>
</html>
